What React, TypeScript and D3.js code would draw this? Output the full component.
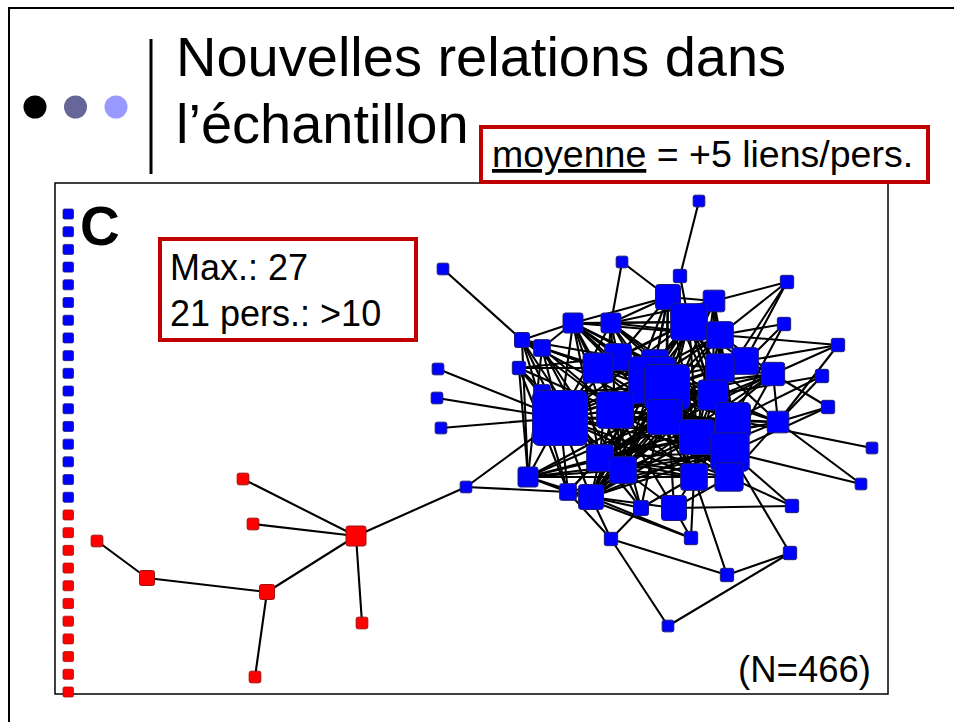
import React from "react";
import * as d3 from "d3";

// ---------- text content ----------
const titleLines = ["Nouvelles relations dans", "l’échantillon"];
const panelLetter = "C";
const meanUnderlined = "moyenne";
const meanRest = " = +5 liens/pers.";
const maxLines = ["Max.: 27", "21 pers.: >10"];
const sampleLabel = "(N=466)";
const bulletColors = ["#000000", "#666699", "#9999ff"];

// ---------- network data (layout coordinates inside the panel, degree = new links) ----------
// [id, layoutX, layoutY, degree]
const blueNodes: [string, number, number, number][] = [
  ["b1", 644, 18, 1], ["b2", 388, 86, 1], ["b3", 567, 79, 1], ["b4", 625, 93, 2],
  ["b7", 732, 99, 2], ["b10", 729, 141, 2], ["b11", 783, 162, 2], ["b16", 383, 186, 1],
  ["b17", 464, 185, 2], ["b20", 767, 193, 2], ["b21", 382, 215, 1], ["b22", 386, 245, 1],
  ["b23", 773, 224, 2], ["b34", 817, 265, 1], ["b35", 806, 301, 1], ["b39", 411, 304, 1],
  ["b46", 737, 323, 2], ["b47", 556, 356, 2], ["b48", 636, 355, 2], ["b49", 735, 370, 2],
  ["b50", 672, 392, 2], ["b51", 613, 443, 1], ["b14", 467, 157, 3], ["b15", 487, 165, 4],
  ["b56", 487, 210, 4], ["b12", 518, 140, 6], ["b13", 556, 140, 6], ["b5", 613, 114, 9],
  ["b6", 659, 118, 7], ["b8", 634, 139, 16], ["b9", 665, 152, 10], ["b18", 690, 178, 10],
  ["b19", 718, 191, 8], ["b55", 600, 180, 10], ["b52", 563, 174, 10], ["b53", 543, 185, 12],
  ["b54", 665, 185, 11], ["b24", 505, 235, 27], ["b26", 597, 197, 22], ["b27", 612, 204, 21],
  ["b25", 560, 227, 16], ["b28", 610, 234, 15], ["b29", 658, 212, 12], ["b33", 723, 239, 7],
  ["b31", 678, 237, 15], ["b30", 642, 254, 15], ["b32", 675, 269, 17], ["b36", 545, 275, 10],
  ["b37", 568, 287, 10], ["b38", 473, 294, 6], ["b40", 513, 309, 4], ["b41", 536, 314, 9],
  ["b42", 639, 294, 10], ["b43", 674, 294, 11], ["b44", 586, 325, 3], ["b45", 619, 325, 9],
];

const redNodes: [string, number, number, number][] = [
  ["r1", 188, 296, 1], ["r2", 198, 341, 1], ["r4", 42, 358, 1], ["r7", 307, 440, 1],
  ["r8", 200, 494, 1], ["r5", 92, 395, 3], ["r6", 212, 409, 3], ["r3", 301, 353, 6],
];

// isolated persons (no new link), stacked on the left edge
const isolatedGroups: [string, number][] = [["blue", 17], ["red", 11]];

const edges: string[] = [
  // red component
  "r1-r3", "r2-r3", "r4-r5", "r5-r6", "r6-r3", "r6-r8", "r3-r7", "r3-b39",
  // blue periphery
  "b1-b4", "b2-b14", "b3-b13", "b3-b5", "b4-b8", "b7-b6", "b7-b9", "b7-b29", "b7-b18",
  "b10-b9", "b10-b29", "b10-b31", "b11-b9", "b11-b19", "b11-b18", "b11-b33",
  "b16-b24", "b21-b24", "b22-b24", "b17-b24", "b17-b25", "b17-b40",
  "b20-b31", "b20-b33", "b20-b29", "b23-b19", "b23-b33", "b23-b32",
  "b34-b31", "b35-b32", "b35-b33", "b39-b24", "b39-b40",
  "b46-b45", "b46-b32", "b46-b43", "b47-b41", "b47-b44", "b47-b50", "b47-b51", "b47-b40",
  "b48-b42", "b48-b45", "b48-b41", "b48-b40", "b49-b50", "b49-b32", "b49-b51", "b50-b42",
  "b56-b24", "b56-b27", "b56-b29",
  // core
  "b24-b12", "b24-b13", "b24-b14", "b24-b15", "b24-b25", "b24-b26", "b24-b27", "b24-b28",
  "b24-b29", "b24-b30", "b24-b31", "b24-b32", "b24-b33", "b24-b36", "b24-b37", "b24-b38",
  "b24-b40", "b24-b41", "b24-b42", "b24-b43", "b24-b8", "b24-b9", "b24-b18", "b24-b53", "b24-b52",
  "b25-b12", "b25-b13", "b25-b14", "b25-b15", "b25-b26", "b25-b27", "b25-b28", "b25-b29",
  "b25-b30", "b25-b31", "b25-b32", "b25-b36", "b25-b37", "b25-b42", "b25-b43", "b25-b44",
  "b25-b45", "b25-b8", "b25-b19", "b25-b53",
  "b26-b5", "b26-b6", "b26-b8", "b26-b9", "b26-b12", "b26-b13", "b26-b28", "b26-b29",
  "b26-b30", "b26-b31", "b26-b32", "b26-b33", "b26-b36", "b26-b37", "b26-b41", "b26-b42",
  "b26-b43", "b26-b52", "b26-b53", "b26-b55", "b26-b18",
  "b27-b5", "b27-b8", "b27-b9", "b27-b12", "b27-b15", "b27-b18", "b27-b28", "b27-b29",
  "b27-b30", "b27-b31", "b27-b32", "b27-b36", "b27-b37", "b27-b40", "b27-b41", "b27-b42",
  "b27-b43", "b27-b44", "b27-b45", "b27-b54", "b27-b19",
  "b28-b5", "b28-b8", "b28-b12", "b28-b13", "b28-b14", "b28-b29", "b28-b30", "b28-b31",
  "b28-b32", "b28-b36", "b28-b37", "b28-b38", "b28-b41", "b28-b42", "b28-b43", "b28-b19", "b28-b18",
  "b29-b5", "b29-b6", "b29-b8", "b29-b12", "b29-b13", "b29-b30", "b29-b31", "b29-b32",
  "b29-b33", "b29-b36", "b29-b37", "b29-b42", "b29-b53",
  "b30-b5", "b30-b6", "b30-b8", "b30-b9", "b30-b12", "b30-b31", "b30-b33", "b30-b36",
  "b30-b38", "b30-b41", "b30-b42", "b30-b43", "b30-b52", "b30-b19",
  "b31-b8", "b31-b9", "b31-b13", "b31-b32", "b31-b33", "b31-b36", "b31-b37", "b31-b42",
  "b31-b53", "b31-b54", "b31-b52",
  "b32-b6", "b32-b8", "b32-b9", "b32-b36", "b32-b37", "b32-b38", "b32-b40", "b32-b41",
  "b32-b42", "b32-b43", "b32-b53", "b32-b19",
  "b8-b5", "b8-b6", "b8-b9", "b8-b12", "b8-b13", "b8-b18", "b8-b52", "b8-b53", "b8-b54",
  "b8-b55", "b8-b36", "b8-b37",
  "b9-b5", "b9-b6", "b9-b12", "b9-b13", "b9-b18", "b9-b54", "b9-b19",
  "b36-b38", "b36-b40", "b36-b41", "b36-b42", "b36-b43", "b36-b12", "b36-b14", "b36-b15", "b36-b44",
  "b37-b38", "b37-b41", "b37-b44", "b37-b45", "b37-b42", "b37-b17", "b37-b15",
  "b41-b40", "b41-b44", "b41-b45", "b41-b38", "b41-b18", "b41-b19",
  "b42-b44", "b42-b45", "b42-b43", "b42-b38", "b43-b45", "b43-b33",
  "b52-b12", "b52-b13", "b52-b14", "b52-b17", "b52-b53", "b52-b55", "b52-b5",
  "b53-b12", "b53-b14", "b53-b15", "b53-b17", "b53-b55",
  "b54-b6", "b54-b18", "b54-b19", "b54-b33", "b54-b5", "b54-b55",
  "b55-b5", "b55-b6", "b55-b12", "b55-b13",
  "b12-b13", "b12-b14", "b12-b15", "b13-b5", "b13-b6", "b14-b15", "b5-b6", "b18-b19",
  "b19-b33", "b6-b9", "b38-b40", "b38-b14", "b38-b17", "b12-b5",
  "b14-b40", "b15-b38", "b13-b36", "b12-b37", "b18-b36", "b19-b36", "b33-b36", "b33-b41",
  "b54-b37", "b55-b41", "b52-b42", "b53-b43", "b6-b28", "b5-b41", "b9-b41", "b18-b38",
];

// ---------- geometry ----------
const W = 954;
const H = 722;
const panel = { x: 55, y: 183, w: 833, h: 511 };
const FONT = "Arial, 'Liberation Sans', Helvetica, sans-serif";
const BOX_RED = "#c00000";

export default function App() {
  const xScale = d3.scaleLinear().domain([0, 833]).range([panel.x, panel.x + panel.w]);
  const yScale = d3.scaleLinear().domain([0, 511]).range([panel.y, panel.y + panel.h]);
  const sizeScale = d3.scaleLinear().domain([0, 27]).range([10, 55]);

  type N = { id: string; x: number; y: number; s: number; color: string };
  const nodes: N[] = [
    ...redNodes.map(([id, x, y, d]) => ({ id, x: xScale(x), y: yScale(y), s: sizeScale(d), color: "red" })),
    ...blueNodes.map(([id, x, y, d]) => ({ id, x: xScale(x), y: yScale(y), s: sizeScale(d), color: "blue" })),
  ];
  const byId = new Map(nodes.map((n) => [n.id, n]));

  const isoIds: { id: string; color: string }[] = [];
  isolatedGroups.forEach(([color, count]) => {
    for (let i = 0; i < count; i++) isoIds.push({ id: `${color}-iso-${i}`, color });
  });
  const isoScale = d3.scalePoint<string>().domain(isoIds.map((d) => d.id)).range([214, 692]);
  const isoX = 68;

  const seen = new Set<string>();
  const links = edges
    .map((e) => e.split("-"))
    .filter(([a, b]) => {
      const k = [a, b].sort().join("|");
      if (seen.has(k)) return false;
      seen.add(k);
      return byId.has(a) && byId.has(b);
    })
    .map(([a, b]) => ({ s: byId.get(a)!, t: byId.get(b)! }));

  const fillOf = (c: string) => (c === "red" ? "#ff0000" : "#0000ff");
  const strokeOf = (c: string) => (c === "red" ? "#a01010" : "#1c1c78");

  return (
    <svg
      width={W}
      height={H}
      viewBox={`0 0 ${W} ${H}`}
      style={{ position: "absolute", left: 0, top: 0, background: "#fff" }}
      fontFamily={FONT}
    >
      <rect x={0} y={0} width={W} height={H} fill="#fff" />
      {/* slide frame */}
      <rect x={9} y={8} width={W + 20} height={H + 20} fill="none" stroke="#000" strokeWidth={2} />

      {/* bullets */}
      {bulletColors.map((c, i) => (
        <circle key={c} cx={35 + i * 40.5} cy={107} r={11.5} fill={c} />
      ))}
      <line x1={151} x2={151} y1={39} y2={174} stroke="#000" strokeWidth={3} />

      {/* title */}
      {titleLines.map((t, i) => (
        <text key={i} x={176} y={76 + i * 67} fontSize={56} fill="#000">
          {t}
        </text>
      ))}

      {/* panel */}
      <rect x={panel.x} y={panel.y} width={panel.w} height={panel.h} fill="#fff" stroke="#000" strokeWidth={1.5} />

      {/* edges */}
      <g stroke="#000" strokeWidth={2.1} strokeLinecap="round">
        {links.map((l, i) => (
          <line key={i} x1={l.s.x} y1={l.s.y} x2={l.t.x} y2={l.t.y} />
        ))}
      </g>

      {/* isolated nodes */}
      {isoIds.map((d) => (
        <rect
          key={d.id}
          x={isoX - 5}
          y={(isoScale(d.id) as number) - 5}
          width={10.5}
          height={10}
          rx={1.5}
          fill={fillOf(d.color)}
          stroke={strokeOf(d.color)}
          strokeWidth={0.8}
        />
      ))}

      {/* connected nodes */}
      {nodes.map((n) => (
        <rect
          key={n.id}
          x={n.x - n.s / 2}
          y={n.y - n.s / 2}
          width={n.s}
          height={n.s}
          rx={Math.max(2, n.s * 0.12)}
          fill={fillOf(n.color)}
          stroke={strokeOf(n.color)}
          strokeWidth={1}
        />
      ))}

      {/* panel letter */}
      <text x={80} y={245} fontSize={55} fontWeight="bold" fill="#000">
        {panelLetter}
      </text>

      {/* Max box */}
      <rect x={160} y={239} width={256} height={101} fill="#fff" stroke={BOX_RED} strokeWidth={4} />
      {maxLines.map((t, i) => (
        <text key={i} x={170} y={280 + i * 46} fontSize={36} fill="#000">
          {t}
        </text>
      ))}

      {/* mean box */}
      <rect x={481} y={127} width={447} height={55} fill="#fff" stroke={BOX_RED} strokeWidth={4} />
      <text x={492} y={167} fontSize={37.5} fill="#000">
        <tspan textDecoration="underline" style={{ textDecoration: "underline" }}>{meanUnderlined}</tspan>
        <tspan>{meanRest}</tspan>
      </text>

      {/* sample size */}
      <text x={871} y={682} fontSize={36.5} textAnchor="end" fill="#000">
        {sampleLabel}
      </text>
    </svg>
  );
}
